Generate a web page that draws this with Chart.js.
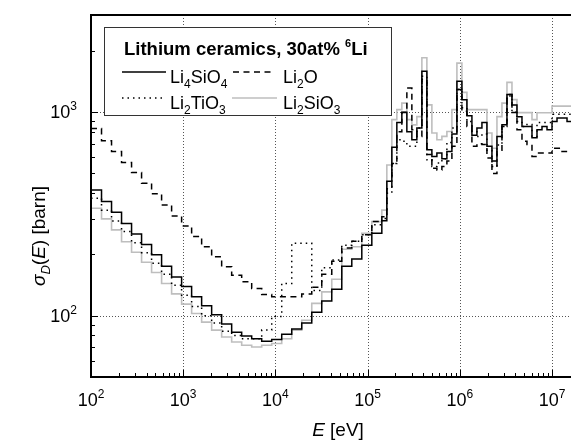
<!DOCTYPE html>
<html>
<head>
<meta charset="utf-8">
<script src="https://cdn.jsdelivr.net/npm/chart.js@4.4.0/dist/chart.umd.min.js"></script>
<style>
  html, body { margin: 0; padding: 0; background: #fff; }
  #wrap { width: 571px; height: 442px; }
</style>
</head>
<body>
<div id="wrap"><canvas id="chart" width="571" height="442"></canvas></div>
<script>
// group boundaries [eV]
const binEdges = [100, 130.07, 167.02, 214.45, 275.36, 353.57, 453.99, 582.95, 748.52, 961.12,
  1234.1, 1584.6, 2034.7, 2612.6, 3354.6, 4307.4, 5530.8, 7101.7, 9118.8, 11709,
  15034, 19305, 24788, 31828, 40868, 52475, 67379, 86517, 111090, 142640,
  161630, 183160, 207550, 235180, 266500, 301970, 342180, 387740, 439370, 497870,
  564160, 639280, 724400, 820850, 930140, 1053900, 1194300, 1353300, 1533500, 1737700,
  1969000, 2231300, 2528300, 2865000, 3246500, 3678800, 4168600, 4723700, 5352600, 6065300,
  6872900, 7788000, 8824900, 10000000, 11331000, 12840000, 14550000, 16487000];

// group-wise sigma_D [barn], one value per group
const li4sio4 = [415, 364, 322, 284, 252, 224, 199, 175, 155, 139,
  124, 112, 101, 91, 83, 79.5, 77, 75, 76.5, 81,
  86, 92, 104, 118, 135, 175, 190, 222, 254, 293,
  457, 672, 890, 1000, 800, 732, 836, 1590, 654, 606,
  630, 590, 640, 780, 1420, 1150, 960, 770, 836, 890,
  680, 575, 760, 866, 1220, 1085, 950, 850, 850, 748,
  820, 850, 820, 900, 935, 935, 900];
const li2o = [830, 724, 641, 566, 505, 448, 397, 350, 309, 276,
  245, 218, 195, 174, 158, 147, 136, 127, 124, 124,
  124, 128, 138, 160, 185, 215, 232, 250, 290, 306,
  420, 560, 800, 995, 1315, 820, 760, 1450, 620, 530,
  520, 540, 575, 680, 1291, 1010, 850, 680, 700, 693,
  595, 500, 650, 850, 1220, 995, 820, 720, 693, 606,
  630, 630, 630, 665, 665, 640, 640];
const li2tio3 = [378, 330, 292, 259, 228, 204, 181, 160, 141, 126,
  111, 100, 92, 84, 80, 77, 77, 85, 99, 144,
  227, 227, 133, 172, 188, 222, 232, 250, 280, 300,
  400, 560, 732, 720, 680, 680, 836, 1500, 583, 540,
  563, 590, 710, 836, 1290, 1050, 900, 800, 760, 780,
  650, 540, 690, 850, 1200, 1000, 900, 850, 870, 760,
  890, 890, 890, 975, 975, 975, 975];
const li2sio3 = [337, 299, 264, 231, 205, 183, 163, 144, 128, 114,
  102.5, 93, 85, 78.6, 74.3, 71.6, 70.2, 71.6, 73, 77,
  85, 95, 115, 131, 151, 212, 218, 254, 290, 330,
  550, 919, 1029, 1107, 919, 866, 950, 1850, 1085, 790,
  732, 760, 803, 1029, 1740, 1250, 1029, 1029, 1029, 1029,
  790, 665, 950, 1107, 1400, 1152, 995, 995, 995, 919,
  993, 993, 993, 1070, 1070, 1070, 1070];

const seriesNames = ['Li4SiO4', 'Li2O', 'Li2TiO3', 'Li2SiO3'];
const seriesValues = [li4sio4, li2o, li2tio3, li2sio3];
const xTicks = [1e2, 1e3, 1e4, 1e5, 1e6, 1e7];
const yTicks = [1e2, 1e3];

const FONT = "'Liberation Sans', Arial, Helvetica, sans-serif";
const styles = [
  { color: '#000000', width: 1.5, dash: [] },
  { color: '#000000', width: 1.5, dash: [6, 4.5] },
  { color: '#000000', width: 1.5, dash: [1.5, 4] },
  { color: '#bebebe', width: 1.6, dash: [] }
];

function stepPoints(values) {
  const pts = values.map((v, i) => ({ x: binEdges[i], y: v }));
  pts.push({ x: binEdges[values.length], y: values[values.length - 1] });
  return pts;
}

// text helpers: a label is a list of runs drawn left to right
function runsWidth(ctx, runs) {
  let w = 0;
  runs.forEach(r => { ctx.font = r.font; w += ctx.measureText(r.text).width; });
  return w;
}
function drawRuns(ctx, runs, x, y) {
  runs.forEach(r => {
    ctx.font = r.font;
    ctx.fillText(r.text, x, y + (r.dy || 0));
    x += ctx.measureText(r.text).width;
  });
}
function powerRuns(v) {
  return [
    { text: '10', font: '18px ' + FONT },
    { text: String(Math.round(Math.log10(v))), font: '12px ' + FONT, dy: -8 }
  ];
}
function formulaRuns(name) {
  // digits in a chemical formula become subscripts
  return name.split(/(\d+)/).filter(s => s).map(s => /\d/.test(s)
    ? { text: s, font: '12px ' + FONT, dy: 5 }
    : { text: s, font: '18px ' + FONT });
}

const gridPlugin = {
  id: 'decadeGrid',
  beforeDatasetsDraw(chart) {
    const { ctx, chartArea: a, scales: { x, y } } = chart;
    ctx.save();
    ctx.strokeStyle = '#555';
    ctx.lineWidth = 1;
    ctx.setLineDash([1, 2]);
    ctx.beginPath();
    xTicks.forEach(v => {
      if (v <= x.min || v > x.max) return;
      const px = Math.round(x.getPixelForValue(v)) + 0.5;
      ctx.moveTo(px, a.top); ctx.lineTo(px, a.bottom);
    });
    yTicks.forEach(v => {
      const py = Math.round(y.getPixelForValue(v)) + 0.5;
      ctx.moveTo(a.left, py); ctx.lineTo(a.right, py);
    });
    ctx.stroke();
    ctx.restore();
  }
};

const decorPlugin = {
  id: 'decor',
  afterDraw(chart) {
    const { ctx, chartArea: a, scales: { x, y } } = chart;
    ctx.save();
    ctx.fillStyle = '#000';
    ctx.strokeStyle = '#000';
    ctx.textBaseline = 'alphabetic';
    ctx.textAlign = 'left';

    // inward tick marks
    ctx.lineWidth = 1;
    ctx.beginPath();
    for (let d = 1e2; d <= 1e7; d *= 10) {
      for (let m = 1; m <= 9; m++) {
        const v = m * d;
        if (v < x.min || v > x.max) continue;
        const px = Math.round(x.getPixelForValue(v)) + 0.5;
        ctx.moveTo(px, a.bottom); ctx.lineTo(px, a.bottom - (m === 1 ? 7 : 4));
      }
    }
    for (let d = 10; d <= 1e3; d *= 10) {
      for (let m = 1; m <= 9; m++) {
        const v = m * d;
        if (v < y.min || v > y.max) continue;
        const py = Math.round(y.getPixelForValue(v)) + 0.5;
        ctx.moveTo(a.left, py); ctx.lineTo(a.left + (m === 1 ? 7 : 4), py);
      }
    }
    ctx.stroke();

    // frame
    ctx.lineWidth = 2;
    ctx.beginPath();
    ctx.moveTo(a.right + 2, a.top);
    ctx.lineTo(a.left, a.top);
    ctx.lineTo(a.left, a.bottom);
    ctx.lineTo(a.right + 2, a.bottom);
    ctx.stroke();

    // tick labels
    xTicks.forEach(v => {
      const runs = powerRuns(v);
      const px = x.getPixelForValue(v);
      drawRuns(ctx, runs, px - runsWidth(ctx, runs) / 2, 406);
    });
    yTicks.forEach(v => {
      const runs = powerRuns(v);
      const py = y.getPixelForValue(v);
      drawRuns(ctx, runs, 77 - runsWidth(ctx, runs), py + 6);
    });

    // axis titles
    const xTitle = [
      { text: 'E', font: 'italic 19px ' + FONT },
      { text: ' [eV]', font: '19px ' + FONT }
    ];
    drawRuns(ctx, xTitle, 338 - runsWidth(ctx, xTitle) / 2, 436);

    const yTitle = [
      { text: 'σ', font: 'italic 19px ' + FONT },
      { text: 'D', font: 'italic 13px ' + FONT, dy: 5 },
      { text: '(', font: '19px ' + FONT },
      { text: 'E', font: 'italic 19px ' + FONT },
      { text: ') [barn]', font: '19px ' + FONT }
    ];
    ctx.save();
    ctx.translate(45, 236);
    ctx.rotate(-Math.PI / 2);
    drawRuns(ctx, yTitle, -runsWidth(ctx, yTitle) / 2, 0);
    ctx.restore();

    // legend box
    ctx.fillStyle = '#fff';
    ctx.fillRect(104, 27, 287, 88);
    ctx.strokeStyle = '#333';
    ctx.lineWidth = 1;
    ctx.strokeRect(104.5, 27.5, 287, 88);
    ctx.fillStyle = '#000';
    drawRuns(ctx, [
      { text: 'Lithium ceramics, 30at% ', font: 'bold 18.5px ' + FONT },
      { text: '6', font: 'bold 11px ' + FONT, dy: -8 },
      { text: 'Li', font: 'bold 18.5px ' + FONT }
    ], 124, 55);

    const slots = [
      { x0: 122, x1: 166, tx: 170, base: 83 },
      { x0: 233, x1: 274, tx: 283, base: 83 },
      { x0: 122, x1: 166, tx: 170, base: 109 },
      { x0: 232, x1: 277, tx: 283, base: 109 }
    ];
    seriesNames.forEach((name, i) => {
      const s = slots[i], st = styles[i];
      ctx.save();
      ctx.strokeStyle = st.color;
      ctx.lineWidth = st.width;
      ctx.setLineDash(st.dash);
      ctx.beginPath();
      ctx.moveTo(s.x0, s.base - 11);
      ctx.lineTo(s.x1, s.base - 11);
      ctx.stroke();
      ctx.restore();
      drawRuns(ctx, formulaRuns(name), s.tx, s.base);
    });
    ctx.restore();
  }
};

new Chart(document.getElementById('chart'), {
  type: 'line',
  data: {
    datasets: seriesNames.map((name, i) => ({
      label: name,
      data: stepPoints(seriesValues[i]),
      stepped: 'before',
      borderColor: styles[i].color,
      borderWidth: styles[i].width,
      borderDash: styles[i].dash,
      pointRadius: 0,
      fill: false
    }))
  },
  options: {
    responsive: false,
    animation: false,
    devicePixelRatio: 1,
    layout: { padding: { left: 91, right: 0, top: 15, bottom: 65 } },
    plugins: { legend: { display: false }, tooltip: { enabled: false } },
    scales: {
      x: {
        type: 'logarithmic', min: 100, max: 1.607e7,
        ticks: { display: false }, grid: { display: false }, border: { display: false },
        afterFit: s => { s.height = 0; }
      },
      y: {
        type: 'logarithmic', min: 50, max: 3000,
        ticks: { display: false }, grid: { display: false }, border: { display: false },
        afterFit: s => { s.width = 0; }
      }
    }
  },
  plugins: [gridPlugin, decorPlugin]
});
</script>
</body>
</html>
